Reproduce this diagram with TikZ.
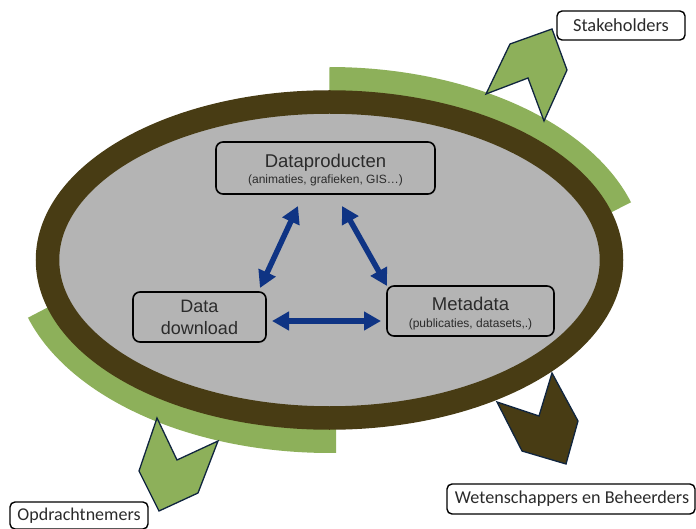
\documentclass[tikz,border=0pt]{standalone}
\usepackage{fontspec}
\setmainfont{Liberation Sans}
\newfontfamily\calib{Carlito}
\usetikzlibrary{arrows.meta}
\newcommand{\nudge}[2]{\raisebox{#1}[\height][\depth]{#2}}
\definecolor{ringbrown}{HTML}{483C14}
\definecolor{leaf}{HTML}{8DB05A}
\definecolor{plate}{HTML}{B4B4B4}
\definecolor{arrowblue}{HTML}{0F3484}
\definecolor{navy}{HTML}{10253F}
\definecolor{inktext}{HTML}{2B2B2B}
\tikzset{
  x=1pt,y=-1pt,
  innerbox/.style={draw=black,line width=1.6pt,rounded corners=7pt,inner sep=0pt,outer sep=0pt,align=center,text=inktext},
  outerbox/.style={draw=black,fill=white,line width=1.4pt,rounded corners=5pt,inner sep=0pt,outer sep=0pt,text=inktext,font=\calib\fontsize{18.4}{20}\selectfont},
  bigtext/.style={font=\fontsize{18}{22}\selectfont},
  biarrow/.style={draw=arrowblue,line width=5.5pt,{Triangle[length=17pt,width=18pt]}-{Triangle[length=17pt,width=18pt]}},
  blockarrow/.style={draw=navy,line width=1.3pt,line join=miter},
}
\begin{document}
\begin{tikzpicture}
\useasboundingbox (0,0) rectangle (696,529);
\clip (0,0) rectangle (696,529);
% green arcs
\fill[leaf] plot[domain=90:17.4,samples=60] ({329.5+316*cos(\x)},{260-193*sin(\x)}) -- (600,218) -- (329,160) -- cycle;
\fill[leaf] plot[domain=197.4:271.2,samples=60] ({329.5+316*cos(\x)},{260-193*sin(\x)}) -- (336,350) -- (60,301) -- cycle;
% ring
\draw[ringbrown,fill=plate,line width=23.5pt] (329.5,260) ellipse [x radius=282,y radius=158];
% block arrows
\filldraw[blockarrow,fill=leaf] (486,94) -- (528,78) -- (544,121) -- (567,70) -- (552,29) -- (510,44) -- cycle;
\filldraw[blockarrow,fill=leaf] (157,418) -- (177,460) -- (218,441) -- (198,493) -- (159,511) -- (139,471) -- cycle;
\filldraw[blockarrow,fill=ringbrown] (552,373) -- (539,416) -- (497,402) -- (522,451) -- (566,464) -- (578,421) -- cycle;
% inner boxes
\node[innerbox,minimum width=219pt,minimum height=52pt] (dp) at (325.5,168) {\nudge{-2pt}{\fontsize{18.5}{20}\selectfont Dataproducten}\\[2pt]\nudge{-2pt}{\fontsize{12}{12}\selectfont (animaties, grafieken, GIS…)}};
\node[innerbox,bigtext,minimum width=133pt,minimum height=50pt] (data) at (199.5,317) {Data\\download};
\node[innerbox,minimum width=167pt,minimum height=50pt] (meta) at (470.5,311) {\nudge{-2pt}{\fontsize{18.5}{20}\selectfont Metadata}\\[3pt]\nudge{-3.5pt}{\fontsize{12}{12}\selectfont (publicaties, datasets,.)}};
% outer boxes
\node[outerbox,minimum width=128pt,minimum height=29pt] (stake) at (621,25.5) {Stakeholders};
\node[outerbox,minimum width=138pt,minimum height=27pt,font=\calib\fontsize{18}{20}\selectfont] (opdr) at (79,515.5) {Opdrachtnemers};
\node[outerbox,minimum width=248pt,minimum height=30pt,font=\calib\fontsize{18.15}{20}\selectfont] (wet) at (571,499) {\hspace{2pt}Wetenschappers en Beheerders};
% connectors
\draw[biarrow] ([shift={(82,12)}]dp.south west) -- ([shift={(-6,-4)}]data.north east);
\draw[biarrow] ([shift={(126,12)}]dp.south west) -- (meta.north west);
\draw[biarrow] ([shift={(6,4)}]data.east) -- ([shift={(-6,10)}]meta.west);
\end{tikzpicture}
\end{document}
